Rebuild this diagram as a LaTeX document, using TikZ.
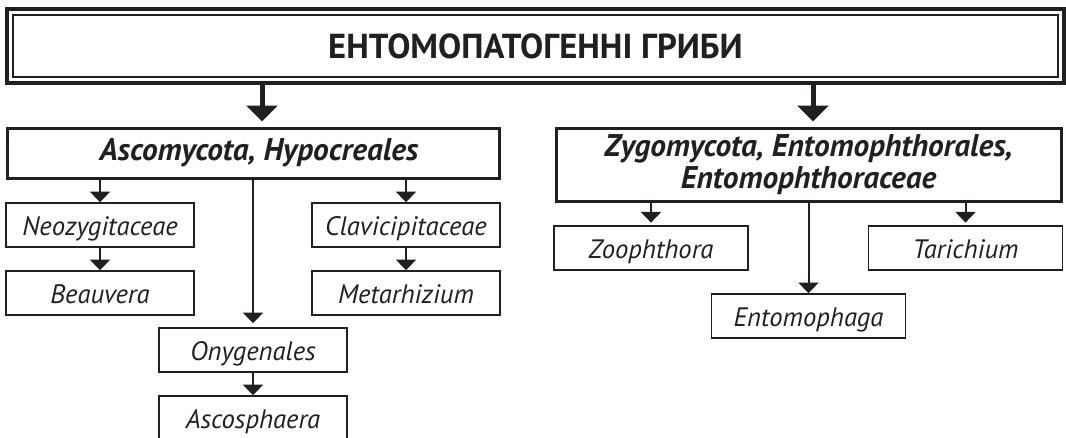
\documentclass[tikz,border=0pt]{standalone}
\usepackage{fontspec}
\setmainfont{PT Sans}
\usetikzlibrary{arrows.meta, fit, positioning}
\definecolor{ink}{RGB}{35,31,32}

\begin{document}
\begin{tikzpicture}[x=0.75pt, y=-0.75pt, ink,
	bigbox/.style={draw, line width=2.25pt, inner sep=0pt, align=center,
		font=\bfseries\itshape\fontsize{23.5}{24}\selectfont},
	leaf/.style={draw, line width=1.1pt, inner sep=0pt, minimum width=141pt,
		minimum height=33pt, text height=18pt, text depth=3pt,
		font=\itshape\fontsize{20}{20}\selectfont},
	bigarrow/.style={line width=3.75pt, -{Triangle[width=23pt,length=12pt]}},
	smallarrow/.style={line width=1.5pt, -{Triangle[width=15pt,length=8pt]}}]
	\useasboundingbox (0,0) rectangle (1066,437);
	%%%	Titolo
	\node[draw, line width=1.1pt, minimum width=783.75pt, minimum height=46.5pt,
		font=\bfseries\fontsize{26}{28}\selectfont] (title) at (535.5,46) {ЕНТОМОПАТОГЕННІ ГРИБИ};
	\node[draw, line width=3pt, fit=(title), inner sep=4.3pt] (frame) {};
	%%%	Rami
	\node[bigbox, minimum width=369pt, minimum height=37.5pt, text height=16pt,
		text depth=5.5pt] (asco) at (253,153) {\hspace*{9pt}Ascomycota, Hypocreales};
	\node[bigbox, minimum width=378.75pt, minimum height=54.75pt] (zygo) at (808.5,164.5) {Zygomycota, Entomophthorales,\\Entomophthoraceae};
	% Ascomycota
	\node[leaf] (neozyg) at (100,225) {Neozygitaceae};
	\node[leaf] (beauv) at (100,293) {Beauvera};
	\node[leaf] (clavi) at (406,225) {Clavicipitaceae};
	\node[leaf] (metar) at (406,293) {Metarhizium};
	\node[leaf] (onyg) at (253,350) {Onygenales};
	\node[leaf] (ascos) at (253,418) {Ascosphaera};
	% Zygomycota
	\node[leaf, minimum width=145.5pt] (zooph) at (651,248) {Zoophthora};
	\node[leaf, minimum width=145.5pt] (taric) at (965.5,248) {Tarichium};
	\node[leaf, minimum width=145.5pt] (entom) at (808.5,316) {Entomophaga};
	%%%	Frecce
	\coordinate (a1) at ([xshift=6.75pt]asco.north);
	\coordinate (a2) at ([xshift=3.4pt]zygo.north);
	\draw[bigarrow] (frame.south -| a1) -- ([yshift=3.75pt]a1);
	\draw[bigarrow] (frame.south -| a2) -- ([yshift=3.75pt]a2);
	\draw[smallarrow] (asco.south -| neozyg.north) -- (neozyg.north);
	\draw[smallarrow] (neozyg) -- (beauv);
	\draw[smallarrow] (asco.south -| clavi.north) -- (clavi.north);
	\draw[smallarrow] (clavi) -- (metar);
	\draw[smallarrow, shorten >=3pt] (asco) -- (onyg);
	\draw[smallarrow] (onyg) -- (ascos);
	\draw[smallarrow, shorten >=2pt] (zygo.south -| zooph.north) -- (zooph.north);
	\draw[smallarrow, shorten >=2pt] (zygo.south -| taric.north) -- (taric.north);
	\draw[smallarrow] (zygo) -- (entom);
\end{tikzpicture}
\end{document}
